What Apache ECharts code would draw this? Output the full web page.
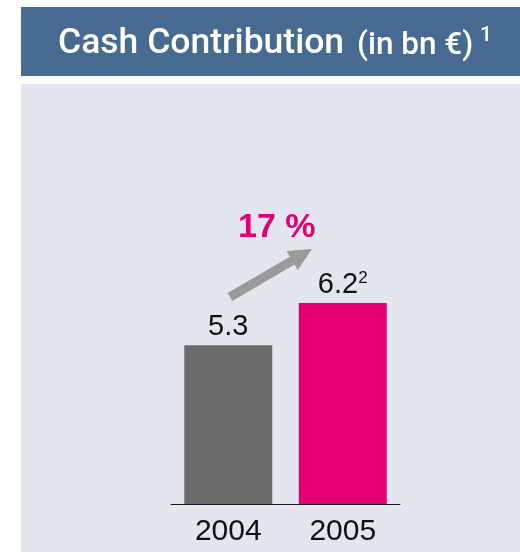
<!DOCTYPE html>
<html>
<head>
<meta charset="utf-8">
<script src="https://cdn.jsdelivr.net/npm/echarts@6/dist/echarts.min.js"></script>
<style>
  html, body { margin: 0; padding: 0; background: #fff; }
  #main { width: 520px; height: 552px; }
</style>
</head>
<body>
<div id="main"></div>
<script>
// data
var years = ['2004', '2005'];
var cashValues = [5.3, 6.2];
var footnotes = ['', '2'];
var barColors = ['#6b6b6b', '#e20074'];
var growthLabel = '17 %';

var FONT = '"Liberation Sans", Arial, sans-serif';
var TITLE_FONT = 'Roboto, "Liberation Sans", sans-serif';

var myChart = echarts.init(document.getElementById('main'));

var option = {
    animation: false,
    backgroundColor: '#ffffff',
    grid: { left: 171, right: 120, top: 219, bottom: 48 },
    xAxis: {
        type: 'category',
        data: years,
        axisLine: { show: true, lineStyle: { color: '#1a1a1a', width: 1 } },
        axisTick: { show: false },
        axisLabel: {
            color: '#111',
            fontFamily: FONT,
            fontSize: 30,
            margin: 13
        }
    },
    yAxis: {
        type: 'value',
        min: 1.9,   // bars in the original are not drawn from zero
        max: 8.0,
        show: false,
        splitLine: { show: false }
    },
    graphic: [
        // title bar and panel
        { type: 'rect', z: -10, shape: { x: 21, y: 7, width: 499, height: 69 }, style: { fill: '#476b90' } },
        { type: 'rect', z: -10, shape: { x: 21, y: 84, width: 499, height: 468 }, style: { fill: '#e3e6ee' } },
        { type: 'text', left: 58, top: 26, style: { text: 'Cash Contribution', fill: '#fff', font: '500 35.5px ' + TITLE_FONT } },
        { type: 'text', left: 357, top: 30, style: { text: '(in bn €)', fill: '#fff', font: '500 31.5px ' + TITLE_FONT } },
        { type: 'text', left: 480, top: 25, style: { text: '1', fill: '#fff', font: '500 21px ' + TITLE_FONT } },
        // growth arrow
        {
            type: 'polygon',
            shape: {
                points: [[227.7, 293.1], [289.9, 256.7], [286.6, 251.1], [312, 249],
                         [297.8, 270.1], [294.5, 264.5], [232.3, 300.9]]
            },
            style: { fill: '#9a9a9a' }
        },
        { type: 'text', left: 238, top: 211, style: { text: growthLabel, fill: '#e20074', font: 'bold 34px ' + FONT } }
    ],
    series: [{
        type: 'bar',
        barWidth: 88,
        data: cashValues.map(function (v, i) {
            return { value: v, itemStyle: { color: barColors[i] } };
        }),
        label: {
            show: true,
            position: 'top',
            distance: 3,
            formatter: function (p) {
                var fn = footnotes[p.dataIndex];
                return '{v|' + p.value.toFixed(1) + '}' + (fn ? '{s|' + fn + '}' : '');
            },
            rich: {
                v: { fontFamily: FONT, fontSize: 29, color: '#111', lineHeight: 30 },
                s: { fontFamily: FONT, fontSize: 17, color: '#111', verticalAlign: 'top', lineHeight: 30 }
            }
        }
    }]
};

myChart.setOption(option);
</script>
</body>
</html>
